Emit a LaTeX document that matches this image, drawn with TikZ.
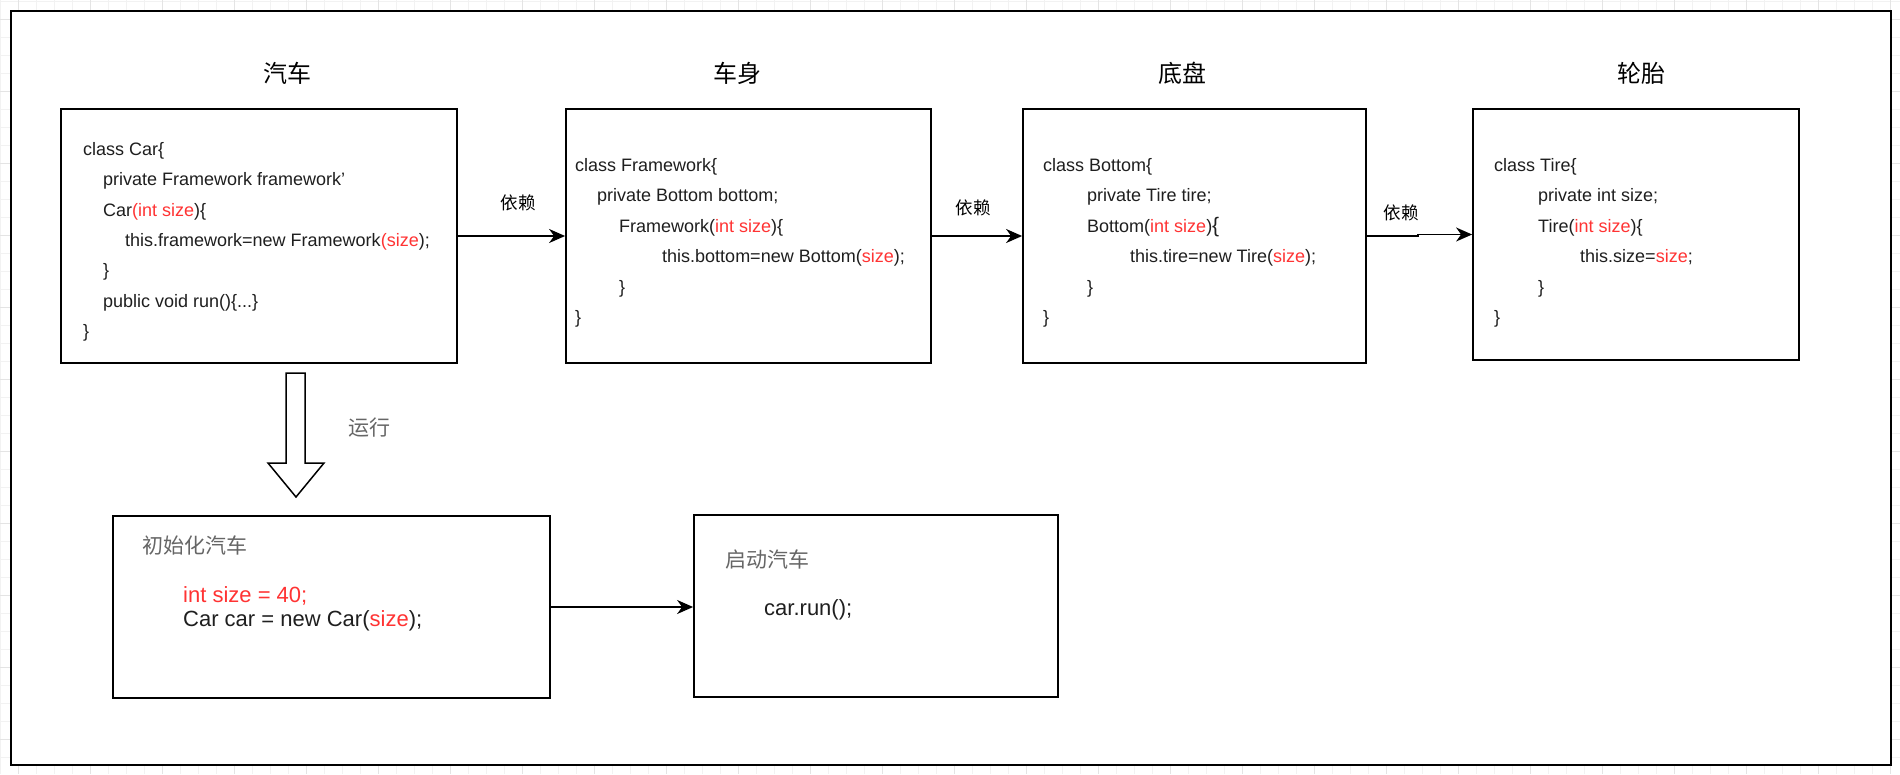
\documentclass[tikz,border=0pt]{standalone}
\usepackage{fontspec}
\setmainfont{Liberation Sans}
\newfontfamily\cjk{Noto Sans CJK SC}
\usetikzlibrary{arrows.meta}
\definecolor{codered}{HTML}{FF3333}
\definecolor{codeink}{HTML}{1F1F1F}
\definecolor{labelgray}{HTML}{666666}
\definecolor{gridminor}{HTML}{F2F2F2}
\definecolor{gridmajor}{HTML}{E4E4E4}
\newcommand{\redtxt}[1]{\textcolor{codered}{#1}}
\tikzset{
  box/.style={draw, line width=1.8pt, fill=white, inner sep=0pt},
  code/.style={anchor=base west, inner sep=0pt, text=codeink, font=\fontsize{18}{20}\selectfont},
  bigcode/.style={code, font=\fontsize{22}{24}\selectfont},
  title/.style={inner sep=0pt, font=\cjk\fontsize{24}{26}\selectfont},
  deplabel/.style={inner sep=0pt, font=\cjk\fontsize{17.5}{19}\selectfont},
  note/.style={anchor=west, inner sep=0pt, text=labelgray, font=\cjk\fontsize{21}{23}\selectfont},
  dep/.style={draw, line width=1.6pt, -{Stealth[length=16pt,width=14pt,inset=5pt]}},
}
\begin{document}
\begin{tikzpicture}[x=1pt,y=-1pt]
  \useasboundingbox (0,0) rectangle (1900,774);
  % background grid
  \foreach \gx in {0,18,...,1890} \draw[gridminor] (\gx,0) -- (\gx,774);
  \foreach \gy in {1,19,...,769} \draw[gridminor] (0,\gy) -- (1900,\gy);
  \foreach \gx in {18,90,...,1890} \draw[gridmajor] (\gx,0) -- (\gx,774);
  \foreach \gy in {19,91,...,739} \draw[gridmajor] (0,\gy) -- (1900,\gy);
  \draw[line width=2pt, fill=white] (11,11) rectangle (1891,765);

  % titles
  \node[title] (tcar) at (287,73) {汽车};
  \node[title] (tframe) at (737,73) {车身};
  \node[title] (tbottom) at (1182,73) {底盘};
  \node[title] (ttire) at (1641,73) {轮胎};

  % class boxes
  \node[box, minimum width=396pt, minimum height=254pt] (car) at (259,236) {};
  \node[box, minimum width=365pt, minimum height=254pt] (frame) at (748.5,236) {};
  \node[box, minimum width=343pt, minimum height=254pt] (bottom) at (1194.5,236) {};
  \node[box, minimum width=326pt, minimum height=251pt] (tire) at (1636,234.5) {};

  \node[code] (car1) at (83,155) {class Car\{};
  \node[code] (car2) at (103,185) {private Framework framework'};
  \node[code] (car3) at (103,216) {Car\redtxt{(int size})\{};
  \node[code] (car4) at (125,246) {this.framework=new Framework\redtxt{(size});};
  \node[code] (car5) at (103,276) {\}};
  \node[code] (car6) at (103,307) {public void run()\{...\}};
  \node[code] (car7) at (83,337) {\}};

  \node[code] (frame1) at (575,171) {class Framework\{};
  \node[code] (frame2) at (597,201) {private Bottom bottom;};
  \node[code] (frame3) at (619,232) {Framework(\redtxt{int size})\{};
  \node[code] (frame4) at (662,262) {this.bottom=new Bottom(\redtxt{size});};
  \node[code] (frame5) at (619,293) {\}};
  \node[code] (frame6) at (575,323) {\}};

  \node[code] (bottom1) at (1043,171) {class Bottom\{};
  \node[code] (bottom2) at (1087,201) {private Tire tire;};
  \node[code] (bottom3) at (1087,232) {Bottom(\redtxt{int size}){\fontsize{21}{21}\selectfont\{}};
  \node[code] (bottom4) at (1130,262) {this.tire=new Tire(\redtxt{size});};
  \node[code] (bottom5) at (1087,293) {\}};
  \node[code] (bottom6) at (1043,323) {\}};

  \node[code] (tire1) at (1494,171) {class Tire\{};
  \node[code] (tire2) at (1538,201) {private int size;};
  \node[code] (tire3) at (1538,232) {Tire(\redtxt{int size})\{};
  \node[code] (tire4) at (1580,262) {this.size=\redtxt{size};};
  \node[code] (tire5) at (1538,293) {\}};
  \node[code] (tire6) at (1494,323) {\}};

  % dependencies
  \draw[dep] (car.east) -- (frame.west);
  \draw[dep] (frame.east) -- (bottom.west);
  \draw[dep] (bottom.east) -| ([xshift=-54pt]tire.west) -- (tire.west);
  \node[deplabel] (dep1) at (518,203) {依赖};
  \node[deplabel] (dep2) at (973,208) {依赖};
  \node[deplabel] (dep3) at (1401,213) {依赖};

  % run
  \draw[line width=1.5pt, fill=white] (286,373) -- (305,373) -- (305,463) -- (324,463)
    -- (296,497) -- (268,463) -- (286,463) -- cycle;
  \node[note, anchor=center] (run) at (369,428) {运行};

  \node[box, minimum width=437pt, minimum height=182pt] (init) at (331.5,607) {};
  \node[box, minimum width=364pt, minimum height=182pt] (start) at (876,606) {};
  \node[note] (initlabel) at (142,545) {初始化汽车};
  \node[bigcode] (init1) at (183,602) {\redtxt{int size = 40;}};
  \node[bigcode] (init2) at (183,626) {Car car = new Car(\redtxt{size});};
  \node[note] (startlabel) at (725,559) {启动汽车};
  \node[bigcode] (start1) at (764,615) {car.run();};
  \draw[dep] (init.east) -- (init.east -| start.west);
\end{tikzpicture}
\end{document}
